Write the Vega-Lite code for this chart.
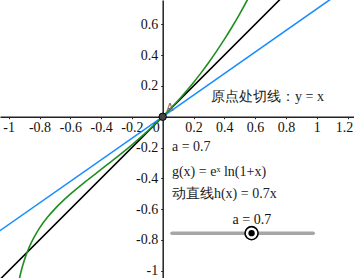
{
  "$schema": "https://vega.github.io/schema/vega-lite/v6.json",
  "width": 354,
  "height": 278,
  "autosize": {"type": "none"},
  "padding": 0,
  "background": "white",
  "config": {"view": {"stroke": null}, "font": "Liberation Serif"},
  "datasets": {
    "curves": [
      {"s": "f", "x": -1.2, "y": -1.2},
      {"s": "f", "x": 0.9, "y": 0.9},
      {"s": "h", "x": -1.2, "y": -0.84},
      {"s": "h", "x": 1.2, "y": 0.84},
      {"s": "g", "x": -0.94, "y": -1.099},
      {"s": "g", "x": -0.93, "y": -1.049},
      {"s": "g", "x": -0.92, "y": -1.006},
      {"s": "g", "x": -0.91, "y": -0.9692},
      {"s": "g", "x": -0.9, "y": -0.936},
      {"s": "g", "x": -0.89, "y": -0.9065},
      {"s": "g", "x": -0.88, "y": -0.8795},
      {"s": "g", "x": -0.86, "y": -0.832},
      {"s": "g", "x": -0.84, "y": -0.7912},
      {"s": "g", "x": -0.82, "y": -0.7552},
      {"s": "g", "x": -0.8, "y": -0.7231},
      {"s": "g", "x": -0.75, "y": -0.6549},
      {"s": "g", "x": -0.7, "y": -0.5979},
      {"s": "g", "x": -0.65, "y": -0.548},
      {"s": "g", "x": -0.6, "y": -0.5029},
      {"s": "g", "x": -0.5, "y": -0.4204},
      {"s": "g", "x": -0.4, "y": -0.3424},
      {"s": "g", "x": -0.3, "y": -0.2642},
      {"s": "g", "x": -0.2, "y": -0.1827},
      {"s": "g", "x": -0.1, "y": -0.0953},
      {"s": "g", "x": 0, "y": 0},
      {"s": "g", "x": 0.05, "y": 0.0513},
      {"s": "g", "x": 0.1, "y": 0.1053},
      {"s": "g", "x": 0.15, "y": 0.1624},
      {"s": "g", "x": 0.2, "y": 0.2227},
      {"s": "g", "x": 0.25, "y": 0.2865},
      {"s": "g", "x": 0.3, "y": 0.3542},
      {"s": "g", "x": 0.35, "y": 0.4259},
      {"s": "g", "x": 0.4, "y": 0.502},
      {"s": "g", "x": 0.45, "y": 0.5827},
      {"s": "g", "x": 0.5, "y": 0.6685},
      {"s": "g", "x": 0.55, "y": 0.7596},
      {"s": "g", "x": 0.56, "y": 0.7785}
    ],
    "slider": [
      {"x": 0.06, "y": -0.756},
      {"x": 0.977, "y": -0.756}
    ],
    "knob": [{"x": 0.577, "y": -0.756}],
    "origin": [{"x": 0, "y": 0}],
    "pointLabel": [{"x": 0.025, "y": 0.06, "t": "A"}],
    "labels": [
      {"x": 0.314, "y": 0.128, "t": "原点处切线：y = x"},
      {"x": 0.06, "y": -0.197, "t": "a = 0.7"},
      {"x": 0.06, "y": -0.359, "t": "g(x) = eˣ ln(1+x)"},
      {"x": 0.06, "y": -0.502, "t": "动直线h(x) = 0.7x"}
    ],
    "sliderLabel": [{"x": 0.579, "y": -0.672, "t": "a = 0.7"}]
  },
  "encoding": {
    "x": {
      "field": "x", "type": "quantitative",
      "scale": {"domain": [-1.0565, 1.242], "nice": false, "zero": false},
      "axis": {
        "orient": "bottom", "offset": -161.3,
        "values": [-1, -0.8, -0.6, -0.4, -0.2, 0, 0.2, 0.4, 0.6, 0.8, 1, 1.2],
        "format": ".1~f",
        "labelExpr": "replace(datum.label, '\u2212', '-')",
        "title": null, "grid": false,
        "domainColor": "#222", "domainWidth": 1.5,
        "tickColor": "#222", "tickSize": 2, "tickWidth": 1,
        "labelFont": "Liberation Serif", "labelFontSize": 14, "labelColor": "#111",
        "labelPadding": 2,
        "labelAlign": {"condition": {"test": "datum.value == 0", "value": "right"}, "value": "center"},
        "labelOffset": {"condition": {"test": "datum.value == 0 || datum.value > 1.1", "value": -3.5}, "value": 0},
        "labelOverlap": false, "labelFlush": false, "labelBound": false
      }
    },
    "y": {
      "field": "y", "type": "quantitative",
      "scale": {"domain": [-1.047, 0.758], "nice": false, "zero": false},
      "axis": {
        "orient": "left", "offset": -162.7,
        "values": [-1, -0.8, -0.6, -0.4, -0.2, 0.2, 0.4, 0.6],
        "format": ".1~f",
        "labelExpr": "replace(datum.label, '\u2212', '-')",
        "title": null, "grid": false,
        "domainColor": "#222", "domainWidth": 1.5,
        "tickColor": "#222", "tickSize": 2, "tickWidth": 1,
        "labelFont": "Liberation Serif", "labelFontSize": 14, "labelColor": "#111",
        "labelPadding": 3,
        "labelOverlap": false, "labelFlush": false, "labelBound": false
      }
    }
  },
  "layer": [
    {
      "data": {"name": "curves"},
      "mark": {"type": "line", "clip": true, "strokeWidth": 1.6, "interpolate": "monotone"},
      "encoding": {
        "color": {
          "field": "s", "type": "nominal",
          "scale": {"domain": ["f", "h", "g"], "range": ["#000000", "#1a8cff", "#1f8f1f"]},
          "legend": null
        },
        "order": {"field": "x", "type": "quantitative"}
      }
    },
    {
      "data": {"name": "origin"},
      "mark": {"type": "point", "filled": true, "size": 55, "color": "#444", "stroke": "#000", "strokeWidth": 1, "opacity": 1}
    },
    {
      "data": {"name": "pointLabel"},
      "mark": {"type": "text", "align": "left", "baseline": "middle", "font": "DejaVu Sans", "fontSize": 10, "color": "#666"},
      "encoding": {"text": {"field": "t"}}
    },
    {
      "data": {"name": "labels"},
      "mark": {"type": "text", "align": "left", "baseline": "middle", "font": "Liberation Serif", "fontSize": 14, "color": "#222"},
      "encoding": {"text": {"field": "t"}}
    },
    {
      "data": {"name": "sliderLabel"},
      "mark": {"type": "text", "align": "center", "baseline": "middle", "font": "Liberation Serif", "fontSize": 14, "color": "#111"},
      "encoding": {"text": {"field": "t"}}
    },
    {
      "data": {"name": "slider"},
      "mark": {"type": "line", "color": "#a6a6a6", "strokeWidth": 3.5, "strokeCap": "round"}
    },
    {
      "data": {"name": "knob"},
      "mark": {"type": "point", "filled": true, "size": 170, "color": "#ffffff", "stroke": "#000", "strokeWidth": 1.6, "opacity": 1}
    },
    {
      "data": {"name": "knob"},
      "mark": {"type": "point", "filled": true, "size": 40, "color": "#000", "opacity": 1}
    }
  ]
}
